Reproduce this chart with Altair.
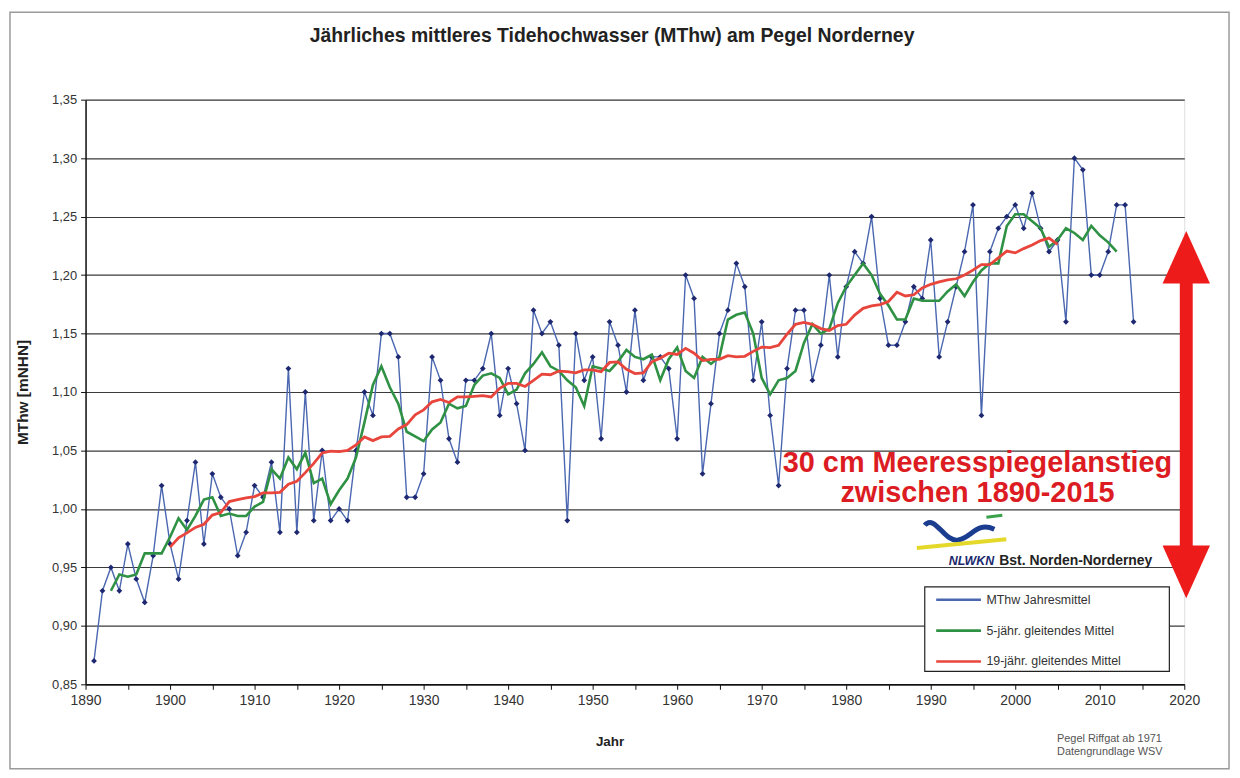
import altair as alt
import pandas as pd

FONT = "Liberation Sans"

# ---------------- data ----------------
years = list(range(1891, 2015))
mthw = [
    0.87, 0.93, 0.95, 0.93, 0.97, 0.94, 0.92, 0.96, 1.02, 0.97,   # 1891-1900
    0.94, 0.99, 1.04, 0.97, 1.03, 1.01, 1.00, 0.96, 0.98, 1.02,   # 1901-1910
    1.01, 1.04, 0.98, 1.12, 0.98, 1.10, 0.99, 1.05, 0.99, 1.00,   # 1911-1920
    0.99, 1.05, 1.10, 1.08, 1.15, 1.15, 1.13, 1.01, 1.01, 1.03,   # 1921-1930
    1.13, 1.11, 1.06, 1.04, 1.11, 1.11, 1.12, 1.15, 1.08, 1.12,   # 1931-1940
    1.09, 1.05, 1.17, 1.15, 1.16, 1.14, 0.99, 1.15, 1.11, 1.13,   # 1941-1950
    1.06, 1.16, 1.14, 1.10, 1.17, 1.11, 1.13, 1.13, 1.12, 1.06,   # 1951-1960
    1.20, 1.18, 1.03, 1.09, 1.15, 1.17, 1.21, 1.19, 1.11, 1.16,   # 1961-1970
    1.08, 1.02, 1.12, 1.17, 1.17, 1.11, 1.14, 1.20, 1.13, 1.19,   # 1971-1980
    1.22, 1.21, 1.25, 1.18, 1.14, 1.14, 1.16, 1.19, 1.18, 1.23,   # 1981-1990
    1.13, 1.16, 1.19, 1.22, 1.26, 1.08, 1.22, 1.24, 1.25, 1.26,   # 1991-2000
    1.24, 1.27, 1.24, 1.22, 1.23, 1.16, 1.30, 1.29, 1.20, 1.20,   # 2001-2010
    1.22, 1.26, 1.26, 1.16,                                       # 2011-2014
]

series_names = ["MThw Jahresmittel", "5-jähr. gleitendes Mittel", "19-jähr. gleitendes Mittel"]
series_colors = ["#4a67b0", "#2f9143", "#e8453c"]
window_years = [5, 19]

x_ticks = list(range(1890, 2021, 5))
y_ticks = [0.85, 0.90, 0.95, 1.00, 1.05, 1.10, 1.15, 1.20, 1.25, 1.30, 1.35]

title_text = "Jährliches mittleres Tidehochwasser (MThw) am Pegel Norderney"
note_lines = ["30 cm Meeresspiegelanstieg", "zwischen 1890-2015"]
logo_texts = ["NLWKN", "Bst. Norden-Norderney"]
source_lines = ["Pegel Riffgat ab 1971", "Datengrundlage WSV"]

df = pd.DataFrame({"Jahr": years, "MThw": mthw})
one = pd.DataFrame({"k": [0]})

# page position of the plot area's top-left corner
OX, OY = 86, 98


def px(v):
    return v - OX


def py(v):
    return v - OY


color = alt.Color(
    "Reihe:N",
    scale=alt.Scale(domain=series_names, range=series_colors),
    legend=alt.Legend(
        orient="none", legendX=px(940), legendY=py(577), title=None,
        symbolType="stroke", symbolSize=2025, symbolStrokeWidth=2.6,
        labelFont=FONT, labelFontSize=12.5, labelColor="#333",
        labelOffset=4, rowPadding=0, padding=0,
    ),
)

xenc = alt.X(
    "Jahr:Q",
    scale=alt.Scale(domain=[1890, 2020], nice=False, zero=False),
    axis=alt.Axis(
        values=x_ticks, labelExpr="datum.value % 10 == 0 ? '' + datum.value : ''",
        grid=False, title="Jahr", titleFont=FONT, titleFontSize=13.5, titleFontWeight="bold",
        titleColor="#222", titlePadding=28, titleX=px(613),
        labelFont=FONT, labelFontSize=14, labelColor="#333", labelPadding=4,
        labelOverlap=False, labelFlush=False,
        tickSize=5, tickColor="#111", domainColor="#111", domainWidth=1.5,
    ),
)

yaxis = alt.Axis(
    values=y_ticks, labelExpr="replace(format(datum.value, '.2f'), '.', ',')",
    grid=True, gridColor="#3a3a3a", gridWidth=1.2,
    title="MThw [mNHN]", titleFont=FONT, titleFontSize=15.5, titleFontWeight="bold",
    titleColor="#222", titlePadding=21,
    labelFont=FONT, labelFontSize=13, labelColor="#333", labelPadding=4,
    tickSize=5, tickColor="#111", domainColor="#111", domainWidth=1.5,
)
yenc = alt.Y("MThw:Q", scale=alt.Scale(domain=[0.85, 1.35], nice=False, zero=False), axis=yaxis)

base = alt.Chart(df)

blue_line = base.transform_calculate(
    Reihe=f'"{series_names[0]}"'
).mark_line(strokeWidth=1.4).encode(x=xenc, y=yenc, color=color)

blue_points = base.mark_point(
    shape="diamond", filled=True, size=34, color="#1d2870", opacity=1
).encode(x=xenc, y=yenc)


def moving(n, name, width):
    h = (n - 1) // 2
    return base.transform_window(
        ma="mean(MThw)", cnt="count(MThw)", frame=[-h, h], sort=[alt.SortField("Jahr")]
    ).transform_filter(
        f"datum.cnt == {n}"
    ).transform_calculate(
        MThw="datum.ma", Reihe=f'"{name}"'
    ).mark_line(strokeWidth=width).encode(x=xenc, y=yenc, color=color)


green = moving(window_years[0], series_names[1], 2.6)
red = moving(window_years[1], series_names[2], 2.8)

# legend frame
legend_box = alt.Chart(one).mark_rect(fill="white", stroke="#222", strokeWidth=1.2).encode(
    x=alt.value(px(930)), x2=alt.value(px(1176)), y=alt.value(py(588)), y2=alt.value(py(673))
)

# outer frame
outer = alt.Chart(one).mark_rect(fill=None, stroke="#9a9a9a", strokeWidth=1.5).encode(
    x=alt.value(px(10)), x2=alt.value(px(1236)), y=alt.value(py(10)), y2=alt.value(py(771))
)


def text(t, x, y, size, col="#000", weight="normal", align="center", style="normal", font=FONT):
    return alt.Chart(one).mark_text(
        text=t, fontSize=size, color=col, fontWeight=weight, align=align,
        baseline="middle", fontStyle=style, font=font,
    ).encode(x=alt.value(px(x)), y=alt.value(py(y)))


note1 = text(note_lines[0], 983, 463, 29, "#dc1c22", "bold")
note2 = text(note_lines[1], 983, 494, 29, "#dc1c22", "bold")
logo1 = text(logo_texts[0], 977, 562, 12.5, "#1b2a6e", "bold", style="italic")
logo2 = text(logo_texts[1], 1005, 562, 14, "#222", "bold", align="left")
src1 = text(source_lines[0], 1063, 741, 11, "#555", align="left")
src2 = text(source_lines[1], 1063, 754, 11, "#555", align="left")

# NLWKN wave logo (decoration)
wave = alt.Chart(one).mark_point(
    shape="M-0.95,-0.15 C-0.7,-0.45 -0.45,0.3 -0.1,0.22 C0.25,0.15 0.35,-0.25 0.8,-0.05",
    filled=False, size=6400, color="#1b3d8f", strokeWidth=5, opacity=1,
).encode(x=alt.value(px(968)), y=alt.value(py(532)))
logo_yellow = alt.Chart(one).mark_rule(color="#e4d92a", strokeWidth=4).encode(
    x=alt.value(px(922)), x2=alt.value(px(1012)), y=alt.value(py(549)), y2=alt.value(py(540))
)
logo_green = alt.Chart(one).mark_rule(color="#3aa04a", strokeWidth=3).encode(
    x=alt.value(px(992)), x2=alt.value(px(1008)), y=alt.value(py(518)), y2=alt.value(py(516))
)

# red double arrow
ARROW = "#ee1b1b"
shaft = alt.Chart(one).mark_rule(color=ARROW, strokeWidth=13).encode(
    x=alt.value(px(1193)), y=alt.value(py(280)), y2=alt.value(py(552))
)
head_up = alt.Chart(one).mark_point(
    shape="M-0.9,1L0.9,1L0,-1Z", filled=True, size=2809, color=ARROW, opacity=1, strokeWidth=0
).encode(x=alt.value(px(1193)), y=alt.value(py(256.5)))
head_down = alt.Chart(one).mark_point(
    shape="M-0.9,-1L0.9,-1L0,1Z", filled=True, size=2809, color=ARROW, opacity=1, strokeWidth=0
).encode(x=alt.value(px(1193)), y=alt.value(py(573)))

chart = alt.layer(
    outer, blue_line, blue_points, green, red, legend_box,
    note1, note2, wave, logo_yellow, logo_green, logo1, logo2,
    shaft, head_up, head_down, src1, src2,
).properties(
    width=1105, height=588,
    autosize=alt.AutoSizeParams(type="none"),
    padding={"left": 78, "top": 90, "right": 48, "bottom": 88},
    title=alt.TitleParams(
        title_text, font=FONT, fontSize=19.5, fontWeight="bold", color="#222",
        anchor="middle", frame="group", dx=-23, offset=-35,
    ),
).configure_view(stroke="#222", strokeWidth=1.2).configure(background="white")

chart.save("out.html", embed_options={"renderer": "svg", "actions": False})
